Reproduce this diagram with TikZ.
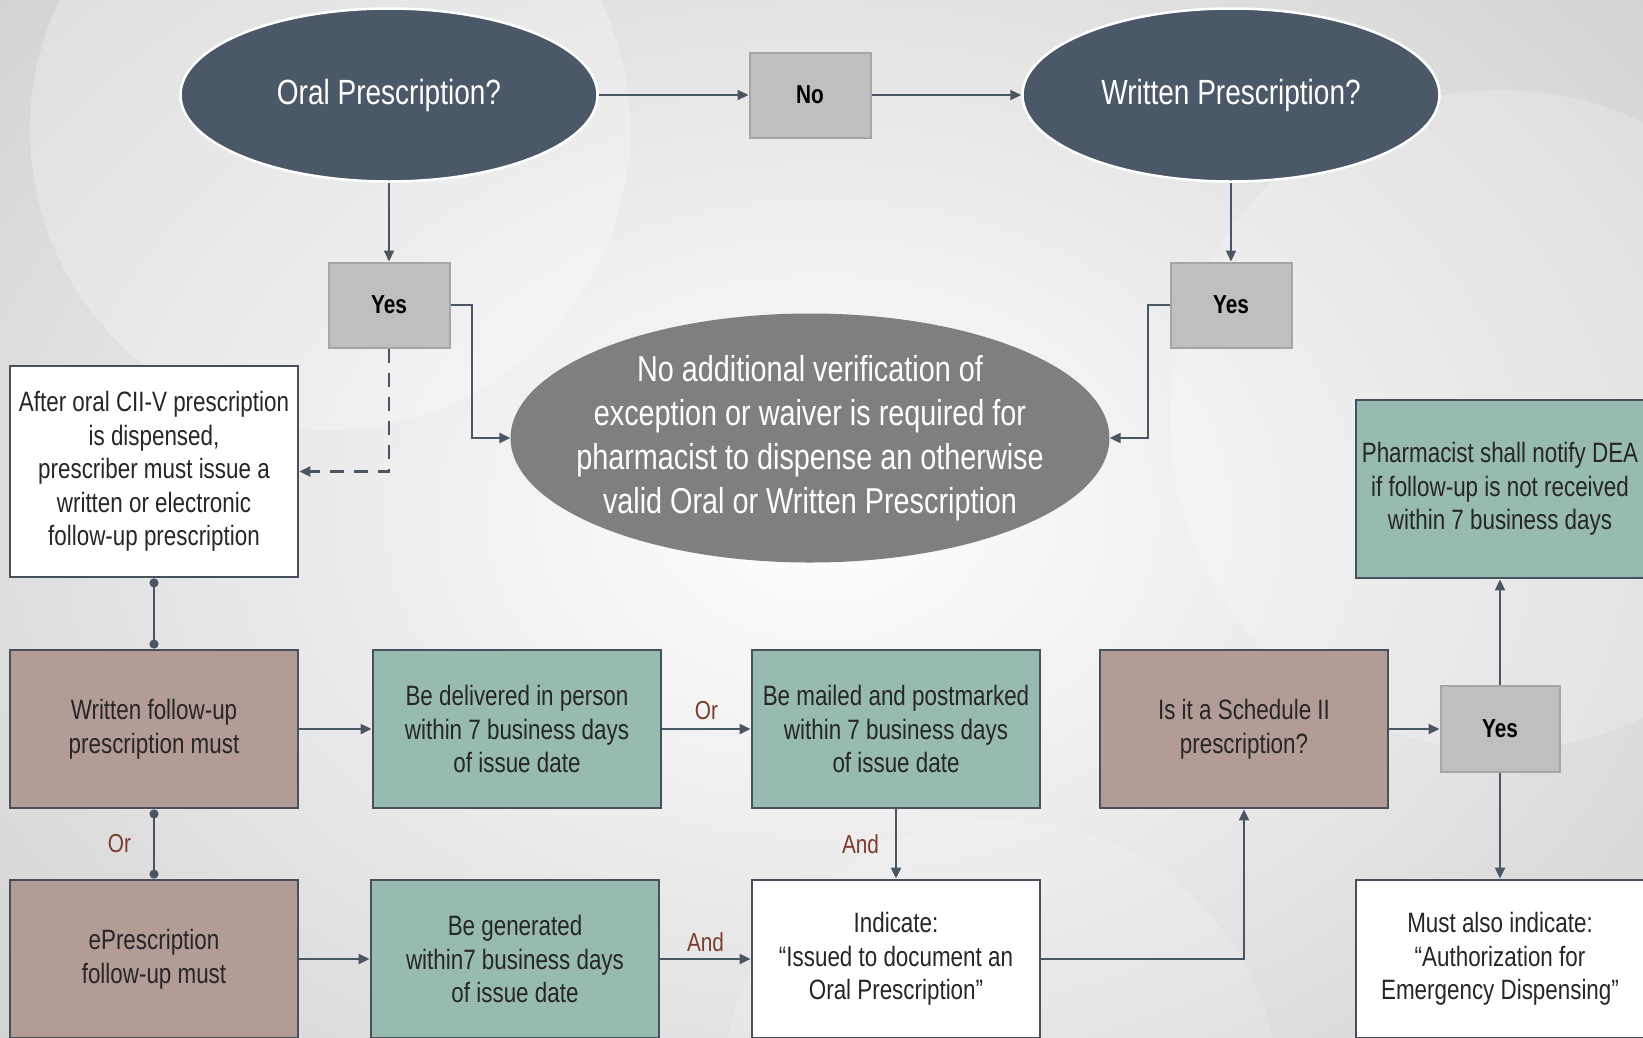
\documentclass[tikz,border=0pt]{standalone}
\usepackage{fontspec}
\setmainfont[FakeStretch=0.8]{Liberation Sans}
\usetikzlibrary{shapes.geometric,arrows.meta,calc}
\definecolor{slate}{HTML}{4A5868}
\definecolor{conn}{HTML}{4B5664}
\definecolor{midgray}{HTML}{7F7F7F}
\definecolor{lgray}{HTML}{BFBFBF}
\definecolor{lgrayb}{HTML}{A6A6A6}
\definecolor{mauve}{HTML}{B39C96}
\definecolor{tealf}{HTML}{97BAB1}
\definecolor{boxline}{HTML}{47505B}
\definecolor{txt}{HTML}{262626}
\definecolor{lab}{HTML}{7A3C2C}
\definecolor{bgout}{HTML}{D2D2D2}
\tikzset{
  darkell/.style={ellipse, fill=slate, draw=white, line width=2.5pt, minimum width=417pt, minimum height=173pt, inner sep=0pt, text=white, font=\fontsize{35}{42}\selectfont},
  graybox/.style={rectangle, fill=lgray, draw=lgrayb, line width=2pt, minimum width=121pt, minimum height=85pt, inner sep=0pt, text=black, font=\bfseries\fontsize{26}{30}\selectfont},
  basebox/.style={rectangle, draw=boxline, line width=2.8pt, minimum width=288pt, minimum height=158pt, inner sep=0pt, text=txt, align=center, font=\fontsize{28}{33.5}\selectfont},
  whbox/.style={basebox, fill=white},
  mauvebox/.style={basebox, fill=mauve},
  tealbox/.style={basebox, fill=tealf},
  arr/.style={draw=conn, line width=2pt, -{Triangle[length=11pt,width=10pt]}},
  dotl/.style={draw=conn, line width=2pt, {Circle[length=9pt]}-{Circle[length=9pt]}},
  lbl/.style={text=lab, font=\fontsize{26}{30}\selectfont, inner sep=2pt}
}
\begin{document}
\begin{tikzpicture}[x=1pt,y=-1pt]
\useasboundingbox (0,0) rectangle (1643,1037);
\begin{scope}
\clip (0,0) rectangle (1643,1037);
\shade[inner color=white, outer color=bgout] (-300,-300) rectangle (1943,1337);
\fill[white, opacity=0.25] (330,130) circle (300);
\fill[white, opacity=0.2] (1500,420) circle (330);
\fill[white, opacity=0.15] (1000,1100) circle (280);

% nodes
\node[darkell] (oral) at (389,95) {Oral Prescription?};
\node[graybox] (no) at (810,95) {No};
\node[darkell] (written) at (1231,95) {Written Prescription?};
\node[graybox] (yesL) at (389,305) {Yes};
\node[graybox] (yesR) at (1231,305) {Yes};
\node[ellipse, fill=midgray, minimum width=597pt, minimum height=249pt, inner xsep=-22pt, inner ysep=-2pt, text=white, align=center, font=\fontsize{36}{44}\selectfont] (central) at (810,438)
  {No additional verification of\\exception or waiver is required for\\pharmacist to dispense an otherwise\\valid Oral or Written Prescription};
\node[whbox, minimum height=211pt] (after) at (154,471.5)
  {After oral CII-V prescription\\is dispensed,\\prescriber must issue a\\written or electronic\\follow-up prescription};
\node[tealbox, minimum height=178pt] (notify) at (1500,489)
  {Pharmacist shall notify DEA\\if follow-up is not received\\within 7 business days};
\node[mauvebox] (wfollow) at (154,729) {Written follow-up\\prescription must};
\node[tealbox] (deliv) at (517,729) {Be delivered in person\\within 7 business days\\of issue date};
\node[tealbox] (mailed) at (896,729) {Be mailed and postmarked\\within 7 business days\\of issue date};
\node[mauvebox] (sched) at (1244,729) {Is it a Schedule II\\prescription?};
\node[graybox, minimum width=119pt, minimum height=86pt] (yesB) at (1500,729) {Yes};
\node[mauvebox] (epres) at (154,959) {ePrescription\\follow-up must};
\node[tealbox] (gen) at (515,959) {Be generated\\within7 business days\\of issue date};
\node[whbox] (indic) at (896,959) {Indicate:\\``Issued to document an\\Oral Prescription''};
\node[whbox] (must) at (1500,959) {Must also indicate:\\``Authorization for\\Emergency Dispensing''};

% connectors
\draw[arr] (oral) -- (no);
\draw[arr] (no) -- (written);
\draw[arr] (oral) -- (yesL);
\draw[arr] (written) -- (yesR);
\draw[arr] (yesL.east) -- ++(21,0) |- (central.west);
\draw[arr] (yesR.west) -- ++(-22,0) |- (central.east);
\draw[arr, line width=2.5pt, dash pattern=on 14pt off 10pt] (yesL.south) |- (after.east);
\draw[dotl] (after.south) -- (wfollow.north);
\draw[dotl] (wfollow.south) -- node[lbl, left=20pt] {Or} (epres.north);
\draw[arr] (wfollow) -- (deliv);
\draw[arr] (deliv) -- node[lbl, above=6pt] {Or} (mailed);
\draw[arr] (epres) -- (gen);
\draw[arr] (gen) -- node[lbl, above=4pt] {And} (indic);
\draw[arr] (mailed) -- node[lbl, left=14pt] {And} (indic);
\draw[arr] (indic.east) -| (sched.south);
\draw[arr] (sched) -- (yesB);
\draw[arr] (yesB) -- (notify);
\draw[arr] (yesB) -- (must);
\end{scope}
\end{tikzpicture}
\end{document}
